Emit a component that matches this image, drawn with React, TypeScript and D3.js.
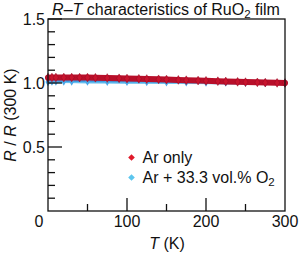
import React from "react";
import * as d3 from "d3";

const tempsAr = [0, 5, 10, 20, 30, 40, 50, 60, 75, 90, 100, 115, 125, 140, 150, 165, 175, 190, 200, 215, 225, 240, 250, 265, 275, 290, 300];
const rAr = [1.042, 1.043, 1.043, 1.043, 1.043, 1.042, 1.042, 1.041, 1.039, 1.037, 1.035, 1.033, 1.031, 1.029, 1.027, 1.024, 1.022, 1.019, 1.017, 1.014, 1.012, 1.009, 1.007, 1.005, 1.003, 1.001, 1.0];
const tempsO2 = [0, 5, 10, 20, 30, 50, 75, 100, 125, 150, 175, 200, 225, 250, 275, 300];
const rO2 = [1.008, 1.012, 1.013, 1.013, 1.013, 1.012, 1.011, 1.01, 1.009, 1.007, 1.006, 1.005, 1.004, 1.003, 1.001, 1.0];

const xMajor = [0, 100, 200, 300];
const xMinor = [50, 150, 250];
const yMajor = [0.5, 1.0, 1.5];
const yMinor = [0.1, 0.2, 0.3, 0.4, 0.6, 0.7, 0.8, 0.9, 1.1, 1.2, 1.3, 1.4];

const legendItems = [
  { label: "Ar only", color: "#e01a2a" },
  { label: "Ar + 33.3 vol.% O", sub: "2", color: "#5cc6ee" },
];

const W = 299, H = 256;
const L = 48, R = 285, T = 19, B = 211;
const FONT = "'Liberation Sans', Arial, sans-serif";
const FS = 16;

export default function App() {
  const x = d3.scaleLinear().domain([0, 300]).range([L, R]);
  const y = d3.scaleLinear().domain([0, 1.5]).range([B, T]);
  const arPts: [number, number][] = tempsAr.map((t, i) => [x(t), y(rAr[i])]);
  const o2Pts: [number, number][] = tempsO2.map((t, i) => [x(t), y(rO2[i])]);
  const path = d3.line();
  const diamond = d3.symbol().type(d3.symbolDiamond).size(22)()!;
  const legSq = d3.symbol().type(d3.symbolSquare).size(22)()!;

  return (
    <svg width={W} height={H} style={{ position: "absolute", left: 0, top: 0, fontFamily: FONT }}>
      <rect width={W} height={H} fill="#fff" />
      {/* title */}
      <text x={166} y={15} textAnchor="middle" fontSize={FS} fill="#111">
        <tspan fontStyle="italic">R</tspan>–<tspan fontStyle="italic">T</tspan> characteristics of RuO
        <tspan fontSize={11.5} dy={3}>2</tspan>
        <tspan dy={-3}> film</tspan>
      </text>

      {/* data: O2 series */}
      <path d={path(o2Pts)!} fill="none" stroke="#3d9be3" strokeWidth={3.5} />
      <path d={path(o2Pts)!} fill="none" stroke="#6fc8f2" strokeWidth={1} transform="translate(0,1.3)" />
      {o2Pts.map((p, i) => (
        <path key={"o" + i} d={diamond} transform={`translate(${p[0]},${p[1]})`} fill="#4aa6e6" />
      ))}
      {/* data: Ar series */}
      <path d={path(arPts)!} fill="none" stroke="#b80f2a" strokeWidth={6} strokeLinecap="round" />
      {arPts.map((p, i) => (
        <path key={"a" + i} d={diamond} transform={`translate(${p[0]},${p[1]})`} fill="#c8142e" stroke="#9a0a24" strokeWidth={0.5} />
      ))}

      {/* frame */}
      <rect x={L} y={T} width={R - L} height={B - T} fill="none" stroke="#111" strokeWidth={1.3} />

      {/* x ticks */}
      {xMajor.filter((v) => v > 0 && v < 300).map((v) => (
        <line key={"xM" + v} x1={x(v)} x2={x(v)} y1={B} y2={B - 13} stroke="#111" strokeWidth={1.3} />
      ))}
      {xMinor.map((v) => (
        <line key={"xm" + v} x1={x(v)} x2={x(v)} y1={B} y2={B - 7} stroke="#111" strokeWidth={1.3} />
      ))}
      {xMajor.map((v) => (
        <text key={"xl" + v} x={v === 0 ? 39 : x(v)} y={227} textAnchor="middle" fontSize={FS} fill="#111">
          {v}
        </text>
      ))}

      {/* y ticks */}
      {yMajor.map((v) => (
        <line key={"yM" + v} x1={L} x2={L + 14} y1={y(v)} y2={y(v)} stroke="#111" strokeWidth={1.3} />
      ))}
      {yMinor.map((v) => (
        <line key={"ym" + v} x1={L} x2={L + 7} y1={y(v)} y2={y(v)} stroke="#111" strokeWidth={1.3} />
      ))}
      {yMajor.map((v) => (
        <text key={"yl" + v} x={45} y={y(v) + 5.5} textAnchor="end" fontSize={FS} fill="#111">
          {v.toFixed(1)}
        </text>
      ))}

      {/* axis labels */}
      <text x={167} y={249} textAnchor="middle" fontSize={FS} fill="#111">
        <tspan fontStyle="italic">T</tspan> (K)
      </text>
      <text transform={`translate(16,${(T + B) / 2}) rotate(-90)`} textAnchor="middle" fontSize={FS} fill="#111">
        <tspan fontStyle="italic">R</tspan> / <tspan fontStyle="italic">R</tspan> (300 K)
      </text>

      {/* legend */}
      {legendItems.map((it, i) => (
        <g key={"lg" + i} transform={`translate(131.5,${157.5 + i * 20})`}>
          <path d={legSq} fill={it.color} transform="rotate(45)" />
          <text x={11} y={5.5} fontSize={FS} fill="#111">
            {it.label}
            {it.sub && (
              <tspan fontSize={11.5} dy={3}>
                {it.sub}
              </tspan>
            )}
          </text>
        </g>
      ))}
    </svg>
  );
}
